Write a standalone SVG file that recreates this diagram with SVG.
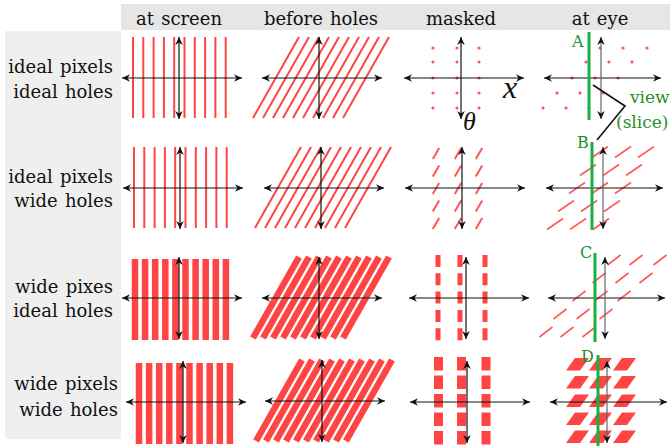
<svg xmlns="http://www.w3.org/2000/svg" xmlns:xlink="http://www.w3.org/1999/xlink" width="670" height="446" viewBox="0 0 670 446">
<style>
.hd{font-family:"DejaVu Serif",serif;font-size:18px;fill:#111;text-anchor:middle;word-spacing:1.5px}
.lb{font-family:"DejaVu Serif",serif;font-size:18px;fill:#111;text-anchor:end;word-spacing:1.5px}
.gl{font-family:"DejaVu Serif",serif;fill:#1f8f2a}
.ax{stroke:#111;stroke-width:1.2;fill:none;marker-start:url(#ah);marker-end:url(#ah)}
.axg{stroke:#666;stroke-width:1.2;fill:none;marker-start:url(#ah);marker-end:url(#ah)}
.rl{stroke:#ff4444;stroke-width:2;fill:none}
.rb{stroke:#ff4444;stroke-width:6.5;fill:none;stroke-linecap:butt}
.rf{fill:#ff4444}
.rd{fill:#ff5555}
.gr{stroke:#19b040;stroke-width:3;fill:none}
.ml{font-family:"Liberation Serif",serif;font-style:italic;fill:#111}
</style>
<defs>
<marker id="ah" viewBox="-9 -5 10 10" refX="0" refY="0" markerWidth="10" markerHeight="10" markerUnits="userSpaceOnUse" orient="auto-start-reverse">
<path d="M0,0 L-8,-3.8 L-5.5,0 L-8,3.8 Z" fill="#111"/>
</marker>
<g id="vl" class="rl">
<line x1="-46" y1="-41" x2="-46" y2="40"/><line x1="-35.7" y1="-41" x2="-35.7" y2="40"/><line x1="-25.4" y1="-41" x2="-25.4" y2="40"/><line x1="-15.1" y1="-41" x2="-15.1" y2="40"/><line x1="-4.8" y1="-41" x2="-4.8" y2="40"/><line x1="5.5" y1="-41" x2="5.5" y2="40"/><line x1="15.8" y1="-41" x2="15.8" y2="40"/><line x1="26.1" y1="-41" x2="26.1" y2="40"/><line x1="36.4" y1="-41" x2="36.4" y2="40"/><line x1="46.7" y1="-41" x2="46.7" y2="40"/>
</g>
<g id="vb" class="rf">
<rect x="-47.25" y="-39" width="6.5" height="81"/><rect x="-37.15" y="-39" width="6.5" height="81"/><rect x="-27.05" y="-39" width="6.5" height="81"/><rect x="-16.95" y="-39" width="6.5" height="81"/><rect x="-6.85" y="-39" width="6.5" height="81"/><rect x="3.25" y="-39" width="6.5" height="81"/><rect x="13.35" y="-39" width="6.5" height="81"/><rect x="23.45" y="-39" width="6.5" height="81"/><rect x="33.55" y="-39" width="6.5" height="81"/><rect x="43.65" y="-39" width="6.5" height="81"/>
</g>
<g id="sl">
<line x1="-66" y1="40" x2="-20" y2="-41"/><line x1="-56" y1="40" x2="-10" y2="-41"/><line x1="-46" y1="40" x2="0" y2="-41"/><line x1="-36" y1="40" x2="10" y2="-41"/><line x1="-26" y1="40" x2="20" y2="-41"/><line x1="-16" y1="40" x2="30" y2="-41"/><line x1="-6" y1="40" x2="40" y2="-41"/><line x1="4" y1="40" x2="50" y2="-41"/><line x1="14" y1="40" x2="60" y2="-41"/><line x1="24" y1="40" x2="70" y2="-41"/>
</g>
<g id="axes"><line class="ax" x1="-57" y1="0" x2="63" y2="0"/><line class="ax" x1="0" y1="-41" x2="0" y2="41"/></g>
<g id="axesE"><line class="ax" x1="-57" y1="0" x2="60" y2="0"/><line class="axg" x1="0" y1="-41" x2="0" y2="41"/></g>
<circle id="dot" r="1.6"/>
<line id="dm" x1="-3.2" y1="5.5" x2="3.2" y2="-5.5" stroke="#ff5555" stroke-width="2"/>
<line id="de2" x1="-8" y1="5.5" x2="8" y2="-5.5" stroke="#ff5a5a" stroke-width="1.6"/>
<line id="de3" x1="-6.5" y1="5" x2="6.5" y2="-5" stroke="#ff5a5a" stroke-width="1.6"/>
<path id="pg" d="M0,12.5 L14,12.5 L23,0 L9,0 Z" fill="#ff4444"/>
</defs>

<g id="header">
<rect x="121" y="4" width="549" height="26" fill="#e6e6e6"/>
<text class="hd" x="179" y="25">at screen</text>
<text class="hd" x="321" y="25">before holes</text>
<text class="hd" x="461" y="25">masked</text>
<text class="hd" x="600" y="25">at eye</text>
</g>

<g id="row-labels">
<rect x="5" y="31" width="116" height="408" fill="#efefef"/>
<text class="lb" x="113" y="73">ideal pixels</text>
<text class="lb" x="113" y="98">ideal holes</text>
<text class="lb" x="113" y="183">ideal pixels</text>
<text class="lb" x="113" y="207">wide holes</text>
<text class="lb" x="113" y="293">wide pixes</text>
<text class="lb" x="113" y="317">ideal holes</text>
<text class="lb" x="118" y="390">wide pixels</text>
<text class="lb" x="118" y="416">wide holes</text>
</g>

<!-- Row 1 -->
<g id="p11" transform="translate(179,78)"><use xlink:href="#vl"/><use xlink:href="#axes"/></g>
<g id="p12" transform="translate(319,78)"><use xlink:href="#sl" class="rl"/><use xlink:href="#axes"/></g>
<g id="p13">
<g class="rd">
<use xlink:href="#dot" x="433" y="48"/><use xlink:href="#dot" x="457" y="48"/><use xlink:href="#dot" x="479" y="48"/>
<use xlink:href="#dot" x="433" y="62"/><use xlink:href="#dot" x="457" y="62"/><use xlink:href="#dot" x="479" y="62"/>
<use xlink:href="#dot" x="433" y="78"/><use xlink:href="#dot" x="457" y="78"/><use xlink:href="#dot" x="479" y="78"/>
<use xlink:href="#dot" x="433" y="93"/><use xlink:href="#dot" x="457" y="93"/><use xlink:href="#dot" x="479" y="93"/>
<use xlink:href="#dot" x="433" y="108"/><use xlink:href="#dot" x="457" y="108"/><use xlink:href="#dot" x="479" y="108"/>
</g>
<use xlink:href="#axes" transform="translate(461,78)"/>
<text class="ml" x="503" y="98" font-size="32">x</text>
<text class="ml" x="463" y="130" font-size="26">θ</text>
</g>
<g id="p14">
<g class="rd">
<use xlink:href="#dot" x="600" y="48"/><use xlink:href="#dot" x="623" y="48"/><use xlink:href="#dot" x="647" y="48"/>
<use xlink:href="#dot" x="586" y="62"/><use xlink:href="#dot" x="609" y="62"/><use xlink:href="#dot" x="632" y="62"/>
<use xlink:href="#dot" x="572" y="78"/><use xlink:href="#dot" x="595" y="78"/><use xlink:href="#dot" x="618" y="78"/>
<use xlink:href="#dot" x="557" y="93"/><use xlink:href="#dot" x="580" y="93"/><use xlink:href="#dot" x="603" y="93"/>
<use xlink:href="#dot" x="543" y="108"/><use xlink:href="#dot" x="566" y="108"/><use xlink:href="#dot" x="589" y="108"/>
</g>
<use xlink:href="#axesE" transform="translate(601,78)"/>
<line class="gr" x1="589" y1="32" x2="589" y2="120"/>
<text class="gl" x="572" y="47" font-size="16">A</text>
</g>

<!-- Row 2 -->
<g id="p21" transform="translate(180,188)"><use xlink:href="#vl"/><use xlink:href="#axes"/></g>
<g id="p22" transform="translate(321,188)"><use xlink:href="#sl" class="rl"/><use xlink:href="#axes"/></g>
<g id="p23">
<use xlink:href="#dm" x="436" y="153.5"/><use xlink:href="#dm" x="458" y="153.5"/><use xlink:href="#dm" x="479" y="153.5"/>
<use xlink:href="#dm" x="436" y="171"/><use xlink:href="#dm" x="458" y="171"/><use xlink:href="#dm" x="479" y="171"/>
<use xlink:href="#dm" x="436" y="188.5"/><use xlink:href="#dm" x="458" y="188.5"/><use xlink:href="#dm" x="479" y="188.5"/>
<use xlink:href="#dm" x="436" y="206"/><use xlink:href="#dm" x="458" y="206"/><use xlink:href="#dm" x="479" y="206"/>
<use xlink:href="#dm" x="436" y="223.5"/><use xlink:href="#dm" x="458" y="223.5"/><use xlink:href="#dm" x="479" y="223.5"/>
<use xlink:href="#axes" transform="translate(462,188)"/>
</g>
<g id="p24">
<use xlink:href="#de2" x="600" y="152"/><use xlink:href="#de2" x="623" y="152"/><use xlink:href="#de2" x="646" y="152"/>
<use xlink:href="#de2" x="588" y="170"/><use xlink:href="#de2" x="611" y="170"/><use xlink:href="#de2" x="634" y="170"/>
<use xlink:href="#de2" x="577" y="188"/><use xlink:href="#de2" x="600" y="188"/><use xlink:href="#de2" x="623" y="188"/>
<use xlink:href="#de2" x="566" y="206"/><use xlink:href="#de2" x="589" y="206"/><use xlink:href="#de2" x="612" y="206"/>
<use xlink:href="#de2" x="555" y="224"/><use xlink:href="#de2" x="578" y="224"/><use xlink:href="#de2" x="601" y="224"/>
<use xlink:href="#axesE" transform="translate(603,188)"/>
<line class="gr" x1="592" y1="142" x2="592" y2="230"/>
<text class="gl" x="577" y="148" font-size="16">B</text>
</g>

<!-- Row 3 -->
<g id="p31" transform="translate(179,298)"><use xlink:href="#vb"/><use xlink:href="#axes"/></g>
<g id="p32" transform="translate(319,298)"><use xlink:href="#sl" class="rb"/><use xlink:href="#axes"/></g>
<g id="p33">
<g stroke="#ff4444" stroke-width="5" stroke-dasharray="12 6.3">
<line x1="438" y1="255" x2="438" y2="341"/><line x1="460" y1="255" x2="460" y2="341"/><line x1="485" y1="255" x2="485" y2="341"/>
</g>
<use xlink:href="#axes" transform="translate(466,298)"/>
</g>
<g id="p34">
<use xlink:href="#de3" x="614" y="260"/><use xlink:href="#de3" x="636" y="260"/><use xlink:href="#de3" x="660" y="260"/>
<use xlink:href="#de3" x="599" y="278"/><use xlink:href="#de3" x="622" y="278"/><use xlink:href="#de3" x="646" y="278"/>
<use xlink:href="#de3" x="579" y="296"/><use xlink:href="#de3" x="601" y="296"/><use xlink:href="#de3" x="624" y="296"/>
<use xlink:href="#de3" x="560" y="314"/><use xlink:href="#de3" x="583" y="314"/><use xlink:href="#de3" x="606" y="314"/>
<use xlink:href="#de3" x="546" y="332"/><use xlink:href="#de3" x="567" y="332"/><use xlink:href="#de3" x="589" y="332"/>
<use xlink:href="#axesE" transform="translate(605,298)"/>
<line class="gr" x1="595" y1="253" x2="595" y2="342"/>
<text class="gl" x="580" y="258" font-size="16">C</text>
</g>

<!-- Row 4 -->
<g id="p41" transform="translate(183,402)"><use xlink:href="#vb"/><use xlink:href="#axes"/></g>
<g id="p42" transform="translate(322,401)"><use xlink:href="#sl" class="rb"/><use xlink:href="#axes"/></g>
<g id="p43">
<g stroke="#ff4444" stroke-width="9" stroke-dasharray="13.5 5">
<line x1="438.5" y1="357" x2="438.5" y2="444.5"/><line x1="461.5" y1="357" x2="461.5" y2="444.5"/><line x1="486" y1="357" x2="486" y2="444.5"/>
</g>
<use xlink:href="#axes" transform="translate(467,402)"/>
</g>
<g id="p44">
<use xlink:href="#pg" x="566" y="358"/><use xlink:href="#pg" x="589" y="358"/><use xlink:href="#pg" x="613" y="358"/>
<use xlink:href="#pg" x="566" y="376"/><use xlink:href="#pg" x="589" y="376"/><use xlink:href="#pg" x="613" y="376"/>
<use xlink:href="#pg" x="566" y="394.5"/><use xlink:href="#pg" x="589" y="394.5"/><use xlink:href="#pg" x="613" y="394.5"/>
<use xlink:href="#pg" x="566" y="412.5"/><use xlink:href="#pg" x="589" y="412.5"/><use xlink:href="#pg" x="613" y="412.5"/>
<use xlink:href="#pg" x="566" y="430.5"/><use xlink:href="#pg" x="589" y="430.5"/><use xlink:href="#pg" x="613" y="430.5"/>
<use xlink:href="#axesE" transform="translate(607,402)"/>
<line class="gr" x1="598" y1="355" x2="598" y2="446"/>
<text class="gl" x="581" y="362" font-size="16">D</text>
</g>

<g id="connectors">
<polyline points="593,85 625,106 597,140" fill="none" stroke="#111" stroke-width="1.6"/>
</g>
<g id="view-label">
<text class="gl" x="630" y="103" font-size="17">view</text>
<text class="gl" x="616" y="128" font-size="17">(slice)</text>
</g>
</svg>
